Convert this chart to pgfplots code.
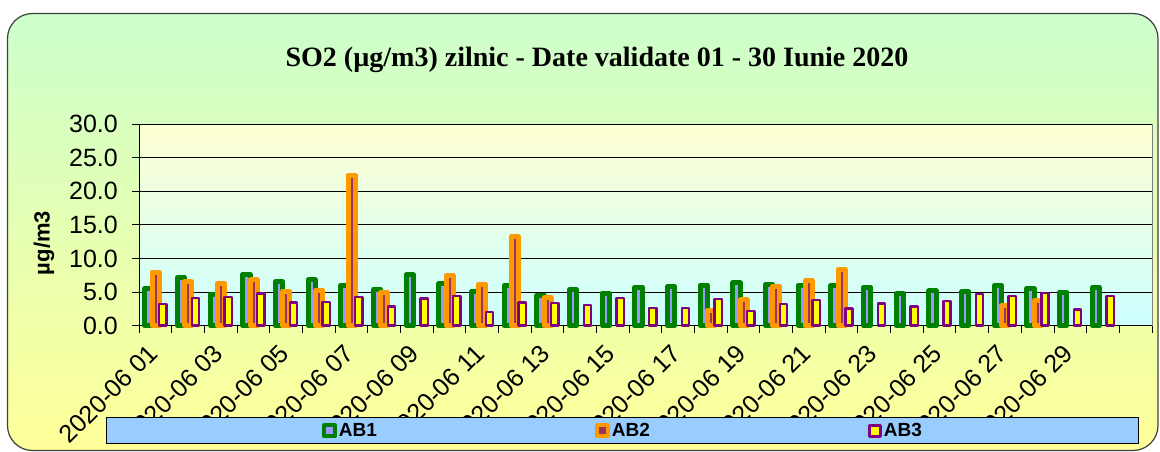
\documentclass[border=0pt]{standalone}
\usepackage{fontspec}
\setmainfont{Liberation Sans}
\newfontfamily\titlefont{Liberation Serif}
\usepackage{pgfplots}
\usepackage{pgfplotstable}
\pgfplotsset{compat=1.18}
\definecolor{bgtop}{RGB}{204,255,204}
\definecolor{bgbot}{RGB}{255,255,153}
\definecolor{pltop}{RGB}{255,255,210}
\definecolor{plbot}{RGB}{204,255,255}
\definecolor{legbg}{RGB}{153,204,255}
\definecolor{abone}{RGB}{0,128,0}
\definecolor{abonefill}{RGB}{153,153,255}
\definecolor{abtwo}{RGB}{255,153,0}
\definecolor{abtwofill}{RGB}{153,51,102}
\definecolor{abthree}{RGB}{128,0,128}
\definecolor{abthreefill}{RGB}{255,255,0}

\pgfplotstableread{
x ab1 ab2 ab3
1 5.55 7.95 3.2
2 7.2 6.55 4.1
3 4.65 6.3 4.25
4 7.65 6.8 4.8
5 6.55 5.15 3.45
6 6.8 5.25 3.5
7 5.95 22.4 4.3
8 5.4 5.0 2.85
9 7.55 nan 4.05
10 6.25 7.4 4.45
11 5.1 6.2 2.05
12 6.0 13.2 3.45
13 4.55 4.2 3.35
14 5.35 nan 3.1
15 4.85 nan 4.1
16 5.75 nan 2.6
17 5.8 nan 2.6
18 6.05 2.25 3.95
19 6.4 3.85 2.2
20 6.15 5.8 3.25
21 6.05 6.7 3.8
22 5.95 8.4 2.55
23 5.7 nan 3.3
24 4.75 nan 2.85
25 5.2 nan 3.65
26 5.05 nan 4.7
27 6.0 3.05 4.45
28 5.55 3.75 4.9
29 5.0 nan 2.4
30 5.7 nan 4.45
}\datatable

\begin{document}
\begin{tikzpicture}[x=1pt,y=1pt]
\useasboundingbox (0,0) rectangle (1160,-451);
\shade[top color=bgtop, bottom color=bgbot, rounded corners=25pt] (7.5,-13.5) rectangle (1158,-450.5);
\draw[black!75, line width=1.2pt, rounded corners=25pt] (7.5,-13.5) rectangle (1158,-450.5);
\shade[top color=pltop, bottom color=plbot] (139.3,-124) rectangle (1152,-325.7);
\draw[gray, line width=1pt] (139.3,-124) -- (1152,-124) -- (1152,-325.7);
\node[font=\titlefont\bfseries\fontsize{28}{32}\selectfont] at (597,-60) {SO2 (µg/m3) zilnic - Date validate 01 - 30 Iunie 2020};
\node[rotate=90, font=\bfseries\fontsize{22}{26}\selectfont] at (44,-243) {µg/m3};
\begin{axis}[
  at={(139.3pt,-325.7pt)}, anchor=south west,
  scale only axis, width=1012.7pt, height=201.7pt,
  xmin=0.5, xmax=31.5, ymin=0, ymax=30,
  clip=false,
  axis lines=left, axis line style={-, black, line width=1pt},
  ytick={0,5,...,30},
  yticklabel style={xshift=-11pt, /pgf/number format/.cd, fixed, fixed zerofill, precision=1, assume math mode=true},
  ymajorgrids, grid style={black, line width=0.9pt},
  tick align=outside, major tick length=7pt, minor tick length=7pt,
  tick style={black, line width=1pt},
  xtick={1,3,...,29},
  xticklabels={2020-06 01,2020-06 03,2020-06 05,2020-06 07,2020-06 09,2020-06 11,2020-06 13,2020-06 15,2020-06 17,2020-06 19,2020-06 21,2020-06 23,2020-06 25,2020-06 27,2020-06 29},
  major x tick style={draw=none},
  minor xtick={0.5,1.5,...,31.5},
  ticklabel style={font=\fontsize{25}{29}\selectfont},
  x tick label style={yshift=-14pt, rotate=45, anchor=east},
  legend style={at={(0.4776,-0.522)}, anchor=center, draw=black, line width=1pt, fill=legbg,
    minimum width=1032pt, minimum height=26pt, inner ysep=0pt,
    nodes={minimum width=0pt, minimum height=0pt, inner sep=2pt, draw=none, fill=none},
    font=\bfseries\fontsize{19}{22}\selectfont, legend columns=3,
    /tikz/every even column/.append style={column sep=216pt}},
]
\addplot[ybar, bar width=0.22, bar shift=-0.22, draw=abone, fill=abonefill, line width=5pt, line join=round,
  legend image code/.code={\draw[draw=abone, fill=abonefill, line width=4pt] (0pt,-5.5pt) rectangle (11pt,5.5pt);}] table[x=x, y=ab1] {\datatable};
\addplot[ybar, bar width=0.22, bar shift=0, draw=abtwo, fill=abtwofill, line width=5pt, line join=round,
  legend image code/.code={\draw[draw=abtwo, fill=abtwofill, line width=4pt] (0pt,-5.5pt) rectangle (11pt,5.5pt);}] table[x=x, y=ab2] {\datatable};
\addplot[ybar, bar width=0.22, bar shift=0.22, draw=abthree, fill=abthreefill, line width=2.5pt, line join=round,
  legend image code/.code={\draw[draw=abthree, fill=abthreefill, line width=3pt] (0pt,-5.5pt) rectangle (11pt,5.5pt);}] table[x=x, y=ab3] {\datatable};
\legend{AB1,AB2,AB3}
\end{axis}
\end{tikzpicture}
\end{document}
